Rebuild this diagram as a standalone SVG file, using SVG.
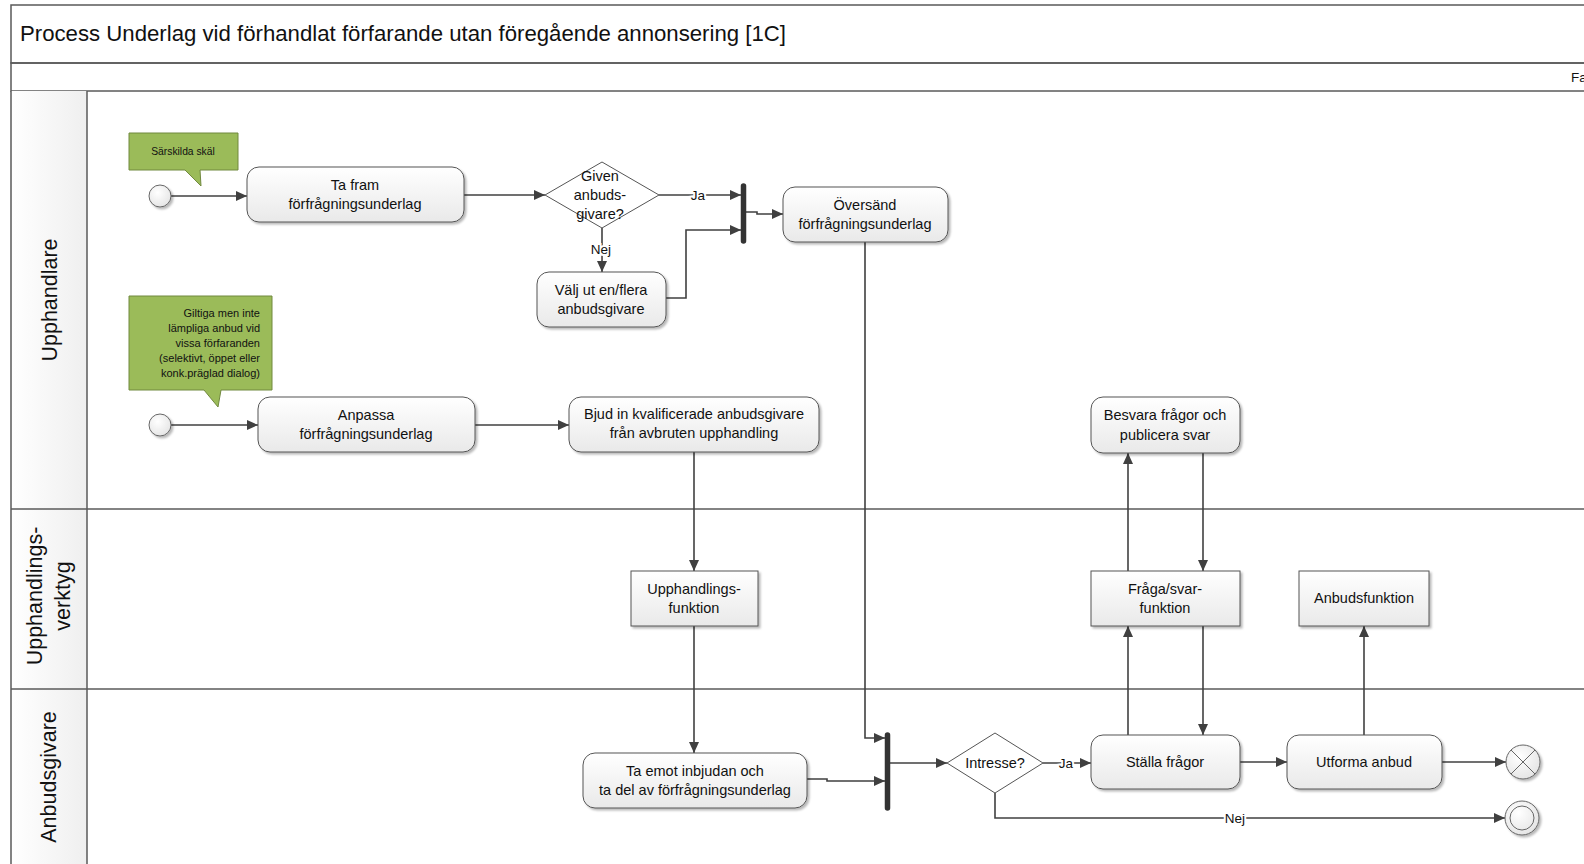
<svg xmlns="http://www.w3.org/2000/svg" width="1584" height="864" viewBox="0 0 1584 864">
<defs>
<linearGradient id="gBox" x1="0" y1="0" x2="0" y2="1"><stop offset="0" stop-color="#ffffff"/><stop offset="1" stop-color="#e9e9e9"/></linearGradient>
<linearGradient id="gHead" x1="0" y1="0" x2="0" y2="1"><stop offset="0" stop-color="#fafafa"/><stop offset="1" stop-color="#efefef"/></linearGradient>
<linearGradient id="gLane" x1="0" y1="0" x2="1" y2="0"><stop offset="0" stop-color="#ffffff"/><stop offset="1" stop-color="#efefef"/></linearGradient>
<radialGradient id="gCirc" cx="0.4" cy="0.35" r="0.7"><stop offset="0" stop-color="#ffffff"/><stop offset="1" stop-color="#e4e4e4"/></radialGradient>
<filter id="sh" x="-10%" y="-10%" width="130%" height="140%"><feDropShadow dx="2" dy="2" stdDeviation="1.2" flood-color="#000" flood-opacity="0.28"/></filter>
<marker id="arr" markerUnits="userSpaceOnUse" markerWidth="12" markerHeight="10" refX="11" refY="5" orient="auto"><path d="M0,0 L11,5 L0,10 Z" fill="#404040"/></marker>
<style>
.frame{fill:none;stroke:#5a5a5a;stroke-width:1.5}
.task{fill:url(#gBox);stroke:#555;stroke-width:1;filter:url(#sh)}
.tool{fill:url(#gBox);stroke:#555;stroke-width:1;filter:url(#sh)}
.dia{fill:#ffffff;stroke:#555;stroke-width:1}
.note{fill:#9bbb59;stroke:#71893f;stroke-width:1}
.ev{fill:url(#gCirc);stroke:#666;stroke-width:1;filter:url(#sh)}
.bar{stroke:#333;stroke-width:5.5;stroke-linecap:round}
.con{fill:none;stroke:#404040;stroke-width:1.6}
.arw{marker-end:url(#arr)}
text{font-family:"Liberation Sans",Arial,sans-serif;fill:#111}
.t{font-size:14.5px;text-anchor:middle}
.lbl{font-size:13.5px;text-anchor:middle}
.lane{font-size:21.5px;text-anchor:middle}
.nt{font-size:10.3px}
.nt2{font-size:11px}
</style>
</defs>

<g id="frame">
<rect x="11" y="5" width="1600" height="58" fill="url(#gHead)" class="frame"/>
<rect x="11" y="63" width="1600" height="28" fill="url(#gHead)" class="frame"/>
<text x="20" y="41" style="font-size:22.2px">Process Underlag vid förhandlat förfarande utan föregående annonsering [1C]</text>
<text x="1571" y="82" style="font-size:13.5px">Fa</text>
<rect x="11" y="91" width="76" height="800" fill="url(#gLane)" stroke="none"/>
<line x1="11" y1="91" x2="11" y2="864" class="frame"/>
<line x1="87" y1="91" x2="87" y2="864" class="frame"/>
<line x1="11" y1="509" x2="1584" y2="509" class="frame"/>
<line x1="11" y1="689" x2="1584" y2="689" class="frame"/>
</g>

<g id="lane-upphandlare"><text class="lane" transform="translate(57,300) rotate(-90)">Upphandlare</text></g>
<g id="lane-verktyg"><text class="lane" transform="translate(42,596) rotate(-90)">Upphandlings-</text><text class="lane" transform="translate(70,596) rotate(-90)">verktyg</text></g>
<g id="lane-anbudsgivare"><text class="lane" transform="translate(56,777) rotate(-90)">Anbudsgivare</text></g>

<g id="connectors">
<path class="con arw" d="M171,196 H247"/>
<path class="con arw" d="M464,195 H545"/>
<path class="con arw" d="M659,195 H741"/>
<text class="lbl" x="698" y="200" style="paint-order:stroke;stroke:#fff;stroke-width:4">Ja</text>
<path class="con arw" d="M602,228 V272"/>
<text class="lbl" x="601" y="254" style="paint-order:stroke;stroke:#fff;stroke-width:4">Nej</text>
<path class="con arw" d="M666,298 H686 V230 H741"/>
<path class="con arw" d="M746,212 H757 V214 H783"/>
<path class="con arw" d="M865,242 V738 H885"/>
<path class="con arw" d="M171,425 H258"/>
<path class="con arw" d="M475,425 H569"/>
<path class="con arw" d="M694,452 V571"/>
<path class="con arw" d="M694,626 V753"/>
<path class="con arw" d="M807,779 H827 V781 H885"/>
<path class="con arw" d="M890,763 H947"/>
<path class="con arw" d="M1043,763 H1091"/>
<text class="lbl" x="1066" y="768" style="paint-order:stroke;stroke:#fff;stroke-width:4">Ja</text>
<path class="con arw" d="M995,793 V818 H1505"/>
<text class="lbl" x="1235" y="823" style="paint-order:stroke;stroke:#fff;stroke-width:4">Nej</text>
<path class="con arw" d="M1240,762 H1287"/>
<path class="con arw" d="M1442,762 H1506"/>
<path class="con arw" d="M1128,735 V626"/>
<path class="con arw" d="M1128,571 V453"/>
<path class="con arw" d="M1203,453 V571"/>
<path class="con arw" d="M1203,626 V735"/>
<path class="con arw" d="M1364,735 V626"/>
</g>

<g id="note1"><path class="note" d="M129,133 H238 V170 H200 L201,186 L185,170 H129 Z"/><text class="nt" x="183" y="155" text-anchor="middle">Särskilda skäl</text></g>
<g id="start1"><circle class="ev" cx="160" cy="196" r="11"/></g>
<g id="task-tafram"><rect class="task" x="247" y="167" width="217" height="55" rx="12"/><text class="t" x="355" y="190">Ta fram</text><text class="t" x="355" y="209">förfrågningsunderlag</text></g>
<g id="dec-given"><path class="dia" d="M602,162 L659,195 L602,228 L545,195 Z"/><text class="t" x="600" y="181">Given</text><text class="t" x="600" y="200">anbuds-</text><text class="t" x="600" y="219">givare?</text></g>
<g id="bar1"><line class="bar" x1="743.5" y1="186" x2="743.5" y2="241"/></g>
<g id="task-oversand"><rect class="task" x="783" y="187" width="165" height="55" rx="12"/><text class="t" x="865" y="210">Översänd</text><text class="t" x="865" y="229">förfrågningsunderlag</text></g>
<g id="task-valj"><rect class="task" x="537" y="272" width="129" height="55" rx="12"/><text class="t" x="601" y="295">Välj ut en/flera</text><text class="t" x="601" y="314">anbudsgivare</text></g>
<g id="note2"><path class="note" d="M129,296 H272 V390 H221 L218,407 L204,390 H129 Z"/>
<g class="nt2" text-anchor="end"><text x="260" y="317">Giltiga men inte</text><text x="260" y="332">lämpliga anbud vid</text><text x="260" y="347">vissa förfaranden</text><text x="260" y="362">(selektivt, öppet eller</text><text x="260" y="377">konk.präglad dialog)</text></g></g>
<g id="start2"><circle class="ev" cx="160" cy="425" r="11"/></g>
<g id="task-anpassa"><rect class="task" x="258" y="397" width="217" height="55" rx="12"/><text class="t" x="366" y="420">Anpassa</text><text class="t" x="366" y="439">förfrågningsunderlag</text></g>
<g id="task-bjud"><rect class="task" x="569" y="397" width="250" height="55" rx="12"/><text class="t" x="694" y="419">Bjud in kvalificerade anbudsgivare</text><text class="t" x="694" y="438">från avbruten upphandling</text></g>
<g id="task-besvara"><rect class="task" x="1091" y="397" width="149" height="56" rx="12"/><text class="t" x="1165" y="420">Besvara frågor och</text><text class="t" x="1165" y="440">publicera svar</text></g>
<g id="tool-upph"><rect class="tool" x="631" y="571" width="127" height="55"/><text class="t" x="694" y="594">Upphandlings-</text><text class="t" x="694" y="613">funktion</text></g>
<g id="tool-fraga"><rect class="tool" x="1091" y="571" width="149" height="55"/><text class="t" x="1165" y="594">Fråga/svar-</text><text class="t" x="1165" y="613">funktion</text></g>
<g id="tool-anbud"><rect class="tool" x="1299" y="571" width="130" height="55"/><text class="t" x="1364" y="603">Anbudsfunktion</text></g>
<g id="task-taemot"><rect class="task" x="583" y="753" width="224" height="55" rx="12"/><text class="t" x="695" y="776">Ta emot inbjudan och</text><text class="t" x="695" y="795">ta del av förfrågningsunderlag</text></g>
<g id="bar2"><line class="bar" x1="887.5" y1="735" x2="887.5" y2="808"/></g>
<g id="dec-intresse"><path class="dia" d="M995,733 L1043,763 L995,793 L947,763 Z"/><text class="t" x="995" y="768">Intresse?</text></g>
<g id="task-stalla"><rect class="task" x="1091" y="735" width="149" height="54" rx="12"/><text class="t" x="1165" y="767">Ställa frågor</text></g>
<g id="task-utforma"><rect class="task" x="1287" y="735" width="155" height="54" rx="12"/><text class="t" x="1364" y="767">Utforma anbud</text></g>
<g id="end-x"><circle class="ev" cx="1523" cy="762" r="17"/><path d="M1511,750 L1535,774 M1535,750 L1511,774" stroke="#666" stroke-width="1"/></g>
<g id="end-nej"><circle class="ev" cx="1522" cy="818" r="17"/><circle cx="1522" cy="818" r="12" fill="none" stroke="#666" stroke-width="1"/></g>
</svg>
